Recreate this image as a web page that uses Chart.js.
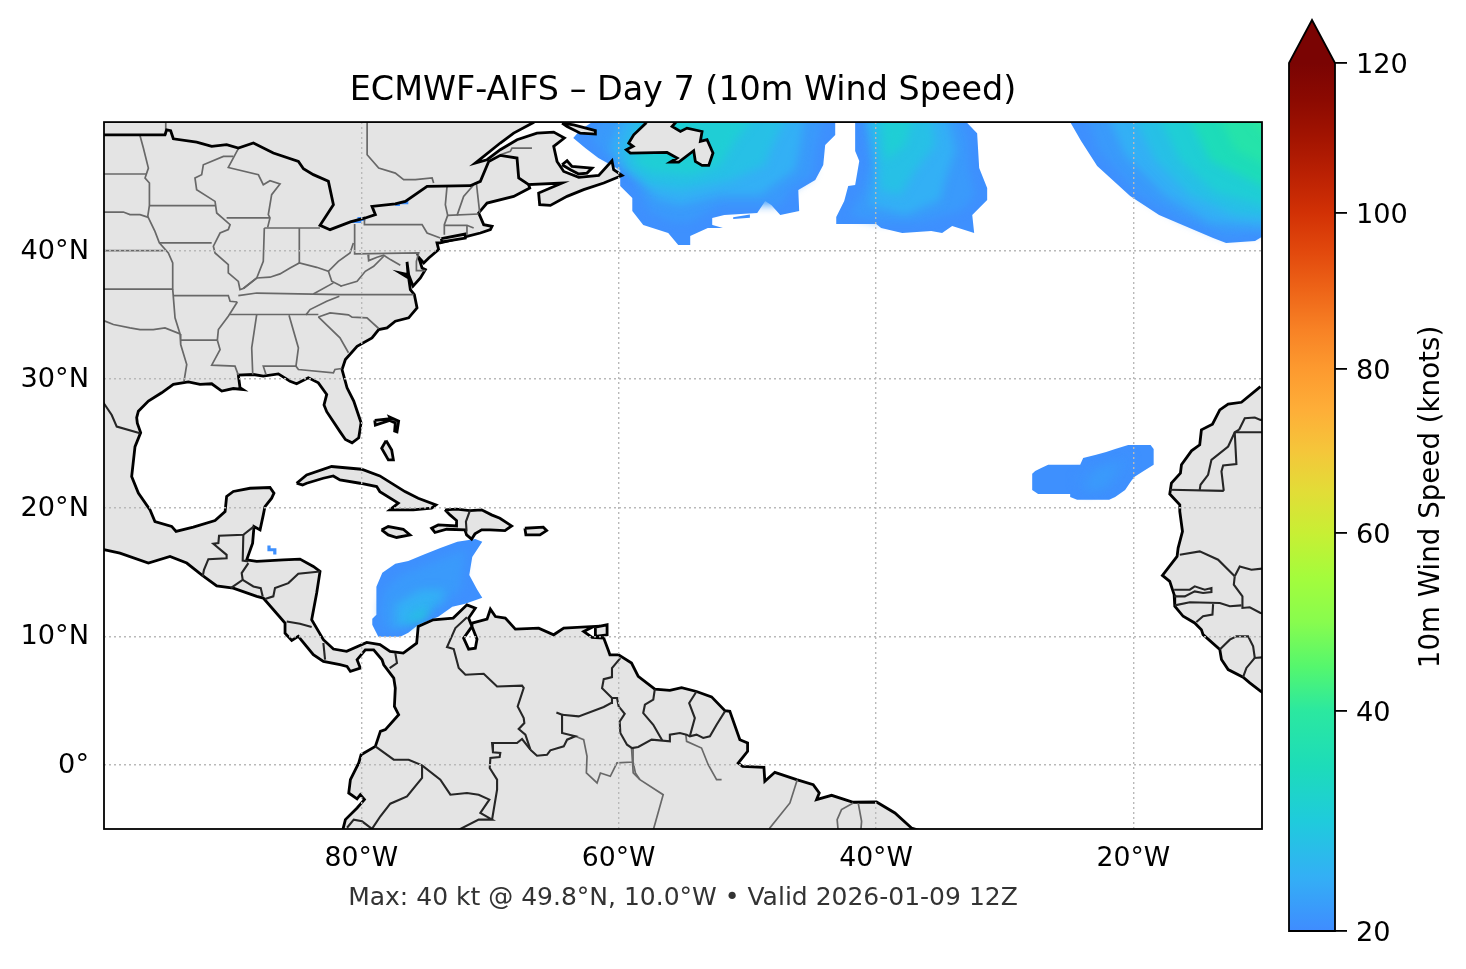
<!DOCTYPE html>
<html>
<head>
<meta charset="utf-8">
<title>ECMWF-AIFS Day 7</title>
<script src="https://cdn.jsdelivr.net/npm/chart.js@4/dist/chart.umd.js"></script>
<style>
  html, body { margin: 0; background: #fff; }
  #map { position: absolute; left: 0; top: 0; }
  #cbar { position: absolute; left: 1270px; top: 0; }
</style>
</head>
<body>
<canvas id="map" width="1366" height="969"></canvas>
<canvas id="cbar" width="196" height="969"></canvas>
<script>
// axes
const lonTicks = [-80, -60, -40, -20];
const lonLabels = ['80°W', '60°W', '40°W', '20°W'];
const latTicks = [0, 10, 20, 30, 40];
const latLabels = ['0°', '10°N', '20°N', '30°N', '40°N'];

const cbarTicks = [20, 40, 60, 80, 100, 120];
const cbarFrac = [0, 0.2535, 0.4585, 0.6475, 0.8272, 1];
const cbarKnots = [20, 25, 30, 35, 40, 45, 50, 55, 60, 65, 70, 75, 80, 85, 90, 95, 100, 105, 110, 115, 120];
const cbarColors = ['#3f8cff', '#33b0f5', '#1fcbdc', '#1ddcb9', '#2be8a0', '#55f76d', '#88fc4e', '#a4fc3c', '#c8ef34',
  '#e2dd37', '#f5c63a', '#feae38', '#fd9a2f', '#f88225', '#ee6518', '#e2490d', '#d23105', '#bb2103', '#a31401', '#8c0a01', '#7a0403'];

// wind areas as [knots, ring of lon/lat], weakest first. inner rings run past the frame, it clips them
const windNewfoundland = [
  [20.5, [[-62.05,50],[-43.17,50],[-43.17,48.99],[-43.95,48.21],[-44.1,46.66],[-44.72,45.49],[-46.04,44.71],[-45.97,43.08],[-47.44,42.77],[-48.14,43.55],[-48.61,43.86],[-49.23,42.92],[-51.79,42.77],[-52.73,42.53],[-52.73,41.91],[-54.44,41.14],[-54.44,40.44],[-55.37,40.44],[-56.15,41.37],[-58.09,41.99],[-58.94,43.08],[-58.94,44.09],[-59.88,45.02],[-59.88,46.27],[-61.58,47.2],[-62.6,47.98],[-63.53,48.76],[-62.99,49.38]]],
  [22, [[-60.65,51],[-43.95,51],[-44.72,47.82],[-44.96,45.88],[-46.67,44.71],[-47.44,43.55],[-52.1,43.55],[-54.44,42.22],[-55.83,42.22],[-57.54,43.0],[-58.32,44.32],[-58.71,45.49],[-61.43,47.82],[-62.21,48.99]]],
  [25, [[-59.49,51],[-45.5,51],[-45.89,48.21],[-46.28,46.27],[-49,44.32],[-52.1,44.32],[-55.21,43.55],[-57.16,44.09],[-58.32,45.49],[-59.88,46.66],[-60.65,47.98]]],
  [28, [[-58.32,51],[-46.67,51],[-48.22,47.82],[-48.61,46.66],[-51.33,45.49],[-55.21,44.71],[-57.54,45.1],[-59.1,46.27],[-59.72,47.43]]],
  [31, [[-56.77,51],[-49,51],[-50.94,48.6],[-52.1,46.66],[-54.44,45.88],[-57.54,46.11],[-58.94,47.04],[-57.54,48.6]]]
];
const windMidNorth = [
  [20.5, [[-41.62,50],[-32.99,50],[-32.14,49.14],[-31.98,46.42],[-31.36,44.87],[-31.36,43.93],[-31.98,43.31],[-32.52,42.77],[-32.37,41.37],[-34.08,41.91],[-34.86,41.37],[-35.71,41.52],[-37.96,41.37],[-39.6,41.76],[-39.98,42.07],[-43.09,42.07],[-43.09,42.61],[-42.47,43.86],[-42.16,45.02],[-41.62,45.1],[-41.3,46.97],[-41.62,47.75]]],
  [22, [[-41.0,51],[-33.7,51],[-32.9,48.6],[-32.8,46.27],[-32.3,44.32],[-33.3,43.16],[-36.57,42.22],[-39.67,42.22],[-42.0,42.77],[-41.0,44.71],[-40.4,47.04]]],
  [25, [[-40.84,51],[-34.62,51],[-33.85,47.82],[-34.62,45.49],[-35.01,43.93],[-37.73,42.77],[-40.45,43.55],[-40.06,46.27]]],
  [28, [[-40.45,51],[-35.79,51],[-35.4,48.21],[-36.95,46.27],[-38.12,44.32],[-39.67,44.71],[-39.83,47.43]]],
  [31, [[-39.67,51],[-36.95,51],[-37.73,48.21],[-39.28,47.04]]]
];
const windEastNorth = [
  [20.5, [[-24.91,50],[-9.9,50],[-9.9,41.14],[-10.54,40.75],[-12.79,40.59],[-13.8,40.98],[-18,42.77],[-20.25,44.25],[-22.81,46.58],[-24.06,48.52]]],
  [22, [[-23.75,51],[-22.73,47.82],[-19.47,44.32],[-16.36,42.53],[-12.87,41.14],[-9,41.45],[-9,51]]],
  [25, [[-22.19,51],[-20.64,47.43],[-17.53,44.32],[-14.03,42.22],[-9,41.76],[-9,51]]],
  [28, [[-20.25,51],[-18.3,47.04],[-15.59,44.32],[-12.09,42.77],[-9,42.53],[-9,51]]],
  [31, [[-18.3,51],[-16.36,47.04],[-13.64,44.56],[-9,43.31],[-9,51]]],
  [35, [[-15.98,51],[-14.03,47.04],[-9,44.56],[-9,51]]],
  [38, [[-13.64,51],[-12.09,47.82],[-9,46.27],[-9,51]]],
  [40, [[-11.7,51],[-9,48.21],[-9,51]]]
];
const windCanaries = [
  [20.5, [[-27.86,22.63],[-27.63,22.86],[-27.16,23.09],[-26.62,23.33],[-24.13,23.33],[-23.9,23.87],[-22.89,24.11],[-22.11,24.34],[-21.41,24.57],[-20.4,24.88],[-18.66,24.88],[-18.42,24.57],[-18.42,23.33],[-19.2,22.86],[-19.9,22.4],[-20.17,22.08],[-20.64,21.38],[-21.41,20.84],[-21.88,20.61],[-24.37,20.61],[-24.91,20.84],[-24.91,21.07],[-27.4,21.07],[-27.86,21.38]]],
  [21, [[-23.74,23.0],[-20.25,24.1],[-20.1,23.33],[-21.41,21.6],[-23.74,21.1],[-24.6,22.16]]],
  [22, [[-22.97,22.94],[-21.04,23.56],[-22.19,21.54],[-23.74,21.38]]]
];
const windCaribbean = [
  [20.5, [[-79.15,11.35],[-78.83,11.66],[-78.83,13.84],[-78.37,14.93],[-77.36,15.63],[-76.35,15.86],[-75.18,16.33],[-73.86,16.87],[-72.54,17.34],[-71.14,17.57],[-70.6,17.34],[-71.38,16.17],[-71.61,14.77],[-70.99,13.61],[-70.6,12.99],[-71.92,12.52],[-72.93,12.29],[-74.02,11.51],[-75.57,10.89],[-76.35,10.26],[-76.97,9.95],[-78.68,9.95],[-79.15,10.89]]],
  [22, [[-78.14,13.61],[-76.97,14.77],[-73.86,15.94],[-71.92,16.72],[-72.31,13.61],[-73.86,12.21],[-76.58,10.89],[-78.14,10.34],[-78.52,12.05]]],
  [25, [[-77.36,12.44],[-75.42,13.61],[-73.47,13.61],[-73.86,12.67],[-75.8,11.43],[-77.36,10.5]]],
  [28, [[-76.58,11.43],[-74.64,12.44],[-75.03,11.74],[-76.35,10.81]]],
  [31, [[-75.8,11.43],[-74.64,12.05],[-75.42,11.12]]]
];
// small patches that sit on the lakes and off Honduras
const windSpecks = [
  [20.5, [[-77.36,43.47],[-77.0,43.47],[-77.0,43.6],[-76.35,43.6],[-76.35,43.86],[-76.9,43.86],[-76.9,43.7],[-77.36,43.7]]],
  [20.5, [[-80.85,42.15],[-80.0,42.15],[-80.0,42.3],[-79.69,42.3],[-79.69,42.61],[-80.3,42.61],[-80.3,42.35],[-80.85,42.35]]],
  [20.5, [[-87.3,16.75],[-87.3,17.05],[-87.05,17.05],[-87.05,16.85],[-86.6,16.85],[-86.6,16.35],[-86.85,16.35],[-86.85,16.6],[-87.3,16.6]]],
  [20.5, [[-53.5,41.9],[-52.9,42.05],[-51.9,41.75],[-53.1,41.75]]],
  [20.5, [[-51.1,42.6],[-49.8,42.8],[-49.8,42.55],[-51.1,42.45]]]
];

// land
const landAmericas = [[-65.5,51],[-66.0,50.4],[-66.66,49.95],[-68.16,49.14],[-69.2,48.37],[-71.14,46.81],[-70.23,47.07],[-69.2,47.85],[-67.9,48.63],[-66.35,49.14],[-65.05,49.22],[-64.22,48.76],[-65.05,48.11],[-64.79,46.94],[-64.27,46.16],[-63.1,45.7],[-61.55,45.85],[-60.52,46.99],[-60.39,46.29],[-59.74,45.85],[-61.16,45.26],[-62.72,44.74],[-64.01,44.22],[-65.31,43.52],[-66.14,43.57],[-66.22,44.48],[-64.4,45.26],[-66.99,45.13],[-66.91,44.87],[-68.16,44.22],[-70.23,43.7],[-70.88,42.93],[-70.49,42.02],[-69.84,41.89],[-69.97,41.63],[-70.75,41.37],[-71.79,41.11],[-73.86,40.6],[-74.12,40.6],[-73.99,40.08],[-74.76,39.43],[-75.15,39.04],[-75.54,39.48],[-75.28,38.65],[-75.02,38.52],[-75.41,37.87],[-75.98,37.23],[-76.32,38.13],[-76.45,39.12],[-76.37,38.13],[-76.97,38.26],[-76.32,37.87],[-76.19,36.97],[-75.88,36.58],[-75.67,35.54],[-76.32,34.77],[-77.36,34.51],[-78.0,33.99],[-78.65,33.86],[-79.17,33.21],[-80.33,32.56],[-81.24,31.53],[-81.5,30.75],[-81.11,29.33],[-80.59,28.29],[-80.02,26.61],[-80.2,25.44],[-80.72,25.05],[-81.24,25.31],[-81.66,25.92],[-82.69,27.47],[-82.9,27.99],[-82.69,28.81],[-83.34,29.71],[-84.12,30.1],[-85.03,29.64],[-85.54,29.84],[-86.45,30.41],[-87.62,30.23],[-88.39,30.36],[-89.56,30.31],[-89.43,29.33],[-89.22,29.2],[-89.95,29.27],[-90.85,29.07],[-91.63,29.64],[-92.54,29.59],[-93.44,29.79],[-94.61,29.59],[-95.52,28.94],[-96.55,28.29],[-97.33,27.51],[-97.46,27.0],[-97.41,26.57],[-97.15,25.84],[-97.59,24.75],[-97.85,22.42],[-97.33,21.13],[-96.42,19.83],[-96.04,18.92],[-94.74,18.54],[-94.4,18.15],[-93.06,18.48],[-91.37,19.0],[-90.59,19.7],[-90.47,20.87],[-89.95,21.26],[-88.65,21.51],[-87.1,21.57],[-86.79,21.13],[-86.97,20.74],[-87.49,20.09],[-87.62,19.44],[-87.87,18.27],[-88.34,18.54],[-88.45,17.24],[-88.91,15.94],[-88.13,15.82],[-86.06,15.94],[-84.77,16.0],[-83.73,15.43],[-83.21,15.04],[-83.47,13.36],[-83.86,11.28],[-82.95,9.73],[-82.17,9.0],[-81.14,8.82],[-79.58,9.52],[-78.55,9.34],[-77.77,8.82],[-76.74,8.69],[-75.7,9.46],[-75.58,10.76],[-74.41,11.28],[-72.86,11.41],[-71.79,12.44],[-71.14,12.18],[-71.66,11.41],[-71.4,10.76],[-72.05,9.85],[-71.66,8.99],[-71.14,9.07],[-71.01,9.77],[-71.4,10.76],[-71.4,11.02],[-70.23,11.33],[-69.97,12.1],[-69.58,11.53],[-68.81,11.41],[-68.03,10.55],[-66.22,10.63],[-65.05,10.11],[-64.27,10.63],[-61.94,10.76],[-62.72,10.37],[-62.07,9.9],[-61.16,9.85],[-60.77,8.81],[-60.68,8.55],[-60.0,8.55],[-59,7.91],[-58.48,6.87],[-57.19,5.89],[-56.02,5.78],[-55.11,6.0],[-53.95,5.7],[-52.78,5.28],[-51.74,4.2],[-51.36,4.15],[-50.58,1.95],[-49.98,1.69],[-49.98,1.04],[-50.71,0.13],[-50.37,-0.12],[-48.71,-0.2],[-48.64,-1.29],[-47.86,-0.59],[-46.17,-1.16],[-44.88,-1.55],[-44.41,-2.2],[-44.62,-2.72],[-43.45,-2.38],[-41.77,-2.92],[-39.96,-2.9],[-38.53,-3.75],[-37.24,-4.92],[-36.85,-5.05],[-35,-5.5],[-35,-7],[-81,-7],[-81.42,-4.99],[-81.24,-4.27],[-80.33,-3.36],[-79.76,-2.71],[-80.08,-2.33],[-80.33,-2.66],[-80.98,-2.2],[-80.85,-1.16],[-80.2,0.14],[-80.02,0.78],[-78.91,1.43],[-78.52,2.6],[-78.13,2.73],[-77.1,3.89],[-77.43,4.54],[-77.36,5.96],[-77.48,6.74],[-78.26,7.78],[-78.39,8.17],[-79.04,8.94],[-79.69,8.94],[-80.33,8.17],[-80.08,7.52],[-80.85,7.26],[-81.11,7.65],[-81.66,7.78],[-82.95,8.04],[-83.73,8.56],[-84.9,9.99],[-85.41,9.67],[-85.93,10.24],[-85.93,11.02],[-87.62,12.97],[-88.13,13.1],[-89.95,13.74],[-91.24,13.92],[-92.41,14.78],[-93.57,15.69],[-94.87,16.2],[-96.55,15.69],[-98.76,16.46],[-99.92,16.72],[-100.57,16.85],[-101,17],[-101,51]];
const landAfrica = [[-10.12,29.42],[-11.6,28.2],[-12.63,28.05],[-13.28,27.61],[-13.85,26.5],[-14.71,26.06],[-14.84,24.89],[-15.48,24.42],[-16.26,23.34],[-16.34,22.69],[-17.04,21.91],[-17.17,21.06],[-16.39,20.23],[-16.39,19.71],[-16.18,18.15],[-16.52,16.86],[-16.6,16.21],[-17.74,14.73],[-17.17,14.27],[-16.83,13.23],[-16.78,12.33],[-16.13,11.55],[-15.23,11.03],[-14.71,10.51],[-14.58,10.12],[-13.28,8.96],[-13.15,8.18],[-12.63,7.4],[-11.47,6.81],[-10.95,6.37],[-10.12,5.72],[-9,5],[-9,30]];
const landCuba = [[-85.03,21.9],[-84.25,22.55],[-82.31,23.2],[-79.98,22.99],[-78.56,22.47],[-76.61,21.25],[-75.58,20.73],[-74.2,20.22],[-74.54,19.96],[-75.96,19.83],[-77.78,19.83],[-77.13,20.35],[-78.56,21.25],[-78.81,21.64],[-80.11,21.9],[-81.66,22.16],[-82.18,22.47],[-82.96,22.29],[-84.25,21.9],[-84.57,21.77]];
const landHispaniola = [[-73.5,19.83],[-72.6,19.88],[-71.56,19.77],[-70.65,19.83],[-69.88,19.44],[-69.23,19.18],[-68.32,18.58],[-68.84,18.22],[-70.0,18.27],[-70.65,18.27],[-71.17,17.96],[-71.43,17.55],[-71.82,17.88],[-71.95,18.27],[-73.37,18.32],[-74.28,18.07],[-74.54,18.4],[-74.02,18.66],[-72.6,18.58],[-72.6,19],[-73.11,19.44]];
const landJamaica = [[-78.43,18.27],[-77.91,18.53],[-76.74,18.32],[-76.22,17.88],[-77.26,17.68],[-77.91,17.88]];
const landPuertoRico = [[-67.29,18.4],[-65.86,18.48],[-65.6,18.22],[-66.12,17.88],[-67.21,17.88]];
const landTrinidad = [[-61.81,10.7],[-60.9,10.89],[-60.9,10.11],[-61.81,9.98]];
const landGrandBahama = [[-78.96,26.79],[-77.74,26.92],[-77.8,27.05],[-77.1,26.73],[-77.23,25.9],[-77.41,25.96],[-77.36,26.6],[-77.8,26.79],[-78.91,26.42]];
const landAndros = [[-78.08,25.22],[-78.42,24.62],[-77.9,23.72],[-77.51,23.72],[-77.64,24.49]];
const landLongIsland = [[-73.78,40.93],[-71.92,41.29],[-71.92,40.98],[-73.73,40.67]];
const landAnticosti = [[-64.4,49.92],[-63.5,49.79],[-61.81,49.33],[-61.81,49.07],[-62.98,49.14],[-64.01,49.66]];
const landPEI = [[-64.4,46.68],[-64.01,46.99],[-63.63,46.55],[-62.07,46.42],[-62.46,46.03],[-63.1,45.96],[-63.75,46.29]];
const landNewfoundland = [[-57.85,49.95],[-58.83,49.01],[-59.22,48.37],[-58.88,48.11],[-59.4,47.85],[-59.09,47.59],[-56.24,47.64],[-55.46,47.2],[-55.98,46.89],[-55.33,46.89],[-54.17,47.77],[-54.04,46.94],[-53.52,46.63],[-53.0,46.63],[-52.67,47.59],[-53.13,48.63],[-53.65,48.5],[-53.52,49.27],[-54.69,49.53],[-55.2,49.27],[-55.85,49.66],[-55.59,49.95],[-55.6,51],[-57.5,51]];
const islands = [landCuba, landHispaniola, landJamaica, landPuertoRico, landTrinidad, landGrandBahama, landAndros, landLongIsland, landAnticosti, landPEI, landNewfoundland];

// US / Canada line along the lakes, black like the coast
const canadaBorder = [[-101,49.01],[-95.26,49.01],[-95.13,49.4],[-94.82,49.33],[-94.61,48.7],[-92.8,48.44],[-91.63,48.11],[-90.47,48.24],[-89.56,47.98],[-88.39,48.37],[-86.84,47.59],[-84.89,46.94],[-84.5,46.37],[-83.73,45.91],[-82.56,45.39],[-82.17,43.57],[-83.21,41.97],[-82.43,41.63],[-80.85,42.23],[-79.69,42.54],[-78.91,42.8],[-79.17,43.44],[-77.36,43.63],[-76.58,43.83],[-74.89,45.0],[-71.53,45.05],[-70.75,45.39],[-70.1,46.94],[-69.2,47.41],[-67.9,47.2],[-67.77,45.65],[-66.99,45.13]];

// state and province lines
const stateLines = [
  [[-95.2,50],[-95.2,49.01]],
  [[-79.55,50],[-79.55,47.46],[-78.65,46.42],[-77.36,46.03],[-76.71,45.52],[-75.8,45.52],[-74.5,45.65],[-74.38,45.26]],
  [[-69.2,47.46],[-68.42,47.72],[-68.29,47.98],[-66.74,47.98]],
  [[-101,45.96],[-96.68,45.96]],
  [[-101,42.98],[-98.5,43],[-97.98,42.8],[-97.2,42.8],[-96.55,42.59]],
  [[-101,40],[-95.39,40]],
  [[-101,37],[-94.66,37]],
  [[-101,34.6],[-99.92,34.51],[-99.27,34.25],[-97.98,33.99],[-97.2,33.86],[-96.17,33.86],[-95.26,33.99],[-94.09,33.52]],
  [[-97.2,48.94],[-96.94,47.98],[-96.55,46.42],[-96.81,45.65],[-96.47,45.26],[-96.47,43.52],[-96.6,42.67]],
  [[-96.6,42.67],[-96.04,41.5],[-95.7,40.6],[-95.0,39.82],[-94.66,39.04],[-94.66,37],[-94.48,34.77],[-94.09,33.52],[-94.04,32.69],[-93.57,31.14],[-93.78,29.84]],
  [[-96.47,43.5],[-91.37,43.5]],
  [[-95.7,40.6],[-91.63,40.6]],
  [[-94.61,36.5],[-90.34,36.5],[-90.2,36.06],[-89.64,36.0]],
  [[-94.04,33.03],[-91.19,33.03]],
  [[-89.56,47.93],[-90.34,46.47],[-88.0,45.9],[-87.62,45.13],[-87.1,45.44],[-86.32,45.18],[-86.97,44.35],[-87.23,42.8],[-87.1,42.54],[-87.28,41.81]],
  [[-89.95,47.33],[-90.72,47.33],[-92.28,46.68],[-92.41,45.9],[-92.93,45.65],[-92.8,44.74],[-91.37,43.83],[-91.24,42.93],[-90.2,42.02],[-90.34,41.63],[-90.98,41.37],[-91.5,40.34],[-91.37,39.82],[-90.34,38.91],[-90.34,38.26],[-89.56,37.6],[-89.43,36.97],[-89.17,37.05]],
  [[-90.47,42.54],[-87.1,42.54]],
  [[-87.54,41.76],[-87.62,39.17],[-88.13,37.87],[-89.17,37.05]],
  [[-87.54,41.76],[-83.21,41.76]],
  [[-84.82,41.76],[-84.82,39.04]],
  [[-89.17,37.05],[-88.13,37.87],[-87.1,37.93],[-86.32,38.19],[-85.54,38.65],[-84.82,39.04],[-83.47,38.7],[-82.56,38.39],[-81.79,39.17],[-80.88,39.82],[-80.62,40.6]],
  [[-79.76,42.48],[-79.76,42.02],[-75.28,42.02],[-74.89,41.37],[-73.86,40.98]],
  [[-80.52,42.07],[-80.52,39.74],[-75.54,39.82],[-75.72,39.17],[-75.72,38.45],[-75.02,38.45]],
  [[-79.48,39.69],[-79.43,39.22],[-78.78,39.48],[-78.26,39.64],[-77.74,39.3],[-76.97,38.86]],
  [[-78.26,39.56],[-79.04,38.78],[-79.69,38.39],[-80.33,37.62],[-81.63,37.23]],
  [[-82.56,38.39],[-82.3,37.62],[-81.53,37.23]],
  [[-82.17,37.49],[-83.73,36.63]],
  [[-89.56,36.5],[-88.13,36.7],[-81.63,36.58],[-75.93,36.58]],
  [[-81.71,36.45],[-82.69,36.06],[-83.99,35.41],[-84.3,35.0]],
  [[-90.2,35.03],[-83.34,35.03]],
  [[-83.34,34.84],[-82.43,35.15],[-81.0,35.0],[-80.72,34.82],[-79.56,34.77],[-78.65,33.94]],
  [[-83.34,34.84],[-81.66,33.21],[-81.0,32.05]],
  [[-88.13,35.03],[-88.52,32.43],[-88.44,30.36]],
  [[-85.62,34.97],[-84.89,32.43],[-85.08,31.01]],
  [[-87.41,30.36],[-87.62,31.01],[-85.08,31.01],[-84.89,30.75],[-82.17,30.49],[-82.05,30.75],[-81.53,30.83]],
  [[-91.19,33.03],[-90.98,32.3],[-91.63,31.09],[-89.82,31.01],[-89.56,30.31]],
  [[-89.64,36.0],[-90.34,34.89],[-91.11,33.86],[-91.19,33.03]],
  [[-73.34,45.0],[-73.47,43.57],[-73.29,42.74],[-73.55,42.02],[-73.55,41.24]],
  [[-71.14,45.26],[-72.05,44.22],[-72.56,42.74]],
  [[-71.06,45.26],[-70.8,42.93]],
  [[-73.29,42.74],[-70.88,42.85]],
  [[-73.55,41.97],[-71.79,41.97],[-71.27,41.76]],
  [[-71.79,41.97],[-71.79,41.19]],
  [[-63.37,2.21],[-62.72,1.95],[-62.46,0.65],[-62.51,-0.64],[-61.68,-1.42],[-61.42,-0.64],[-60.65,-0.9],[-60.13,0.14],[-58.88,0.21],[-58.88,1.3]],
  [[-58.88,0.21],[-58.7,-0.64],[-58.35,-1.16]],
  [[-54.78,2.34],[-54.72,1.82],[-53.56,1.3],[-53.04,0.0],[-52.39,-1.16],[-52.0,-1.16]],
  [[-59,1.3],[-58.87,-0.64],[-58.35,-1.16],[-56.54,-2.33],[-57.57,-6]],
  [[-46.12,-1.16],[-46.69,-2.97],[-48.25,-4.92],[-48.6,-6]],
  [[-41.77,-2.98],[-42.68,-3.49],[-43.02,-4.27],[-42.86,-6]],
  [[-41.38,-2.98],[-41.12,-4.4],[-41.25,-6]]
];

// country lines
const countryLines = [
  [[-100.5,28.8],[-99.92,27.99],[-99.4,27.21],[-99.01,26.31],[-97.2,25.79]],
  [[-88.34,18.54],[-89.17,17.89],[-91.06,17.81],[-91.11,17.24],[-91.5,17.19],[-90.47,16.33],[-90.47,16.07],[-91.89,15.99],[-92.23,15.17],[-92.33,14.65]],
  [[-89.17,17.89],[-89.22,15.89],[-88.78,15.82]],
  [[-88.78,15.69],[-89.3,14.91],[-89.22,14.39],[-90.15,13.74]],
  [[-89.22,14.39],[-88.39,13.87],[-87.82,13.74],[-87.67,13.1]],
  [[-83.21,15.04],[-84.9,14.86],[-85.67,14.13],[-86.71,13.74],[-86.84,13.1],[-87.49,12.89]],
  [[-85.8,11.15],[-84.77,10.97],[-83.86,10.71]],
  [[-82.95,9.47],[-82.82,8.17]],
  [[-77.8,7.52],[-77.23,7.91],[-77.36,8.68]],
  [[-71.56,19.77],[-71.87,18.92],[-71.82,18.14]],
  [[-71.79,11.48],[-72.69,10.63],[-73.34,9.15],[-72.82,9],[-72.43,7.52],[-71.91,7.0],[-70.49,7.08],[-69.45,6.09],[-67.51,6.15],[-67.38,5.97],[-67.85,4.54],[-67.38,3.63],[-67.33,3.24],[-67.77,2.78],[-67.25,2.34],[-66.86,1.17]],
  [[-66.86,1.17],[-67.51,2.0],[-67.9,1.69],[-69.84,1.69],[-69.77,0.97],[-69.2,0.91],[-69.25,0.6],[-69.97,0.52],[-70.02,-0.25],[-69.45,-1.16],[-69.45,-1.94],[-69.84,-4.27]],
  [[-78.91,1.43],[-77.48,0.39],[-76.32,0.39],[-75.28,-0.05],[-73.86,-1.16],[-73.08,-2.33],[-71.79,-2.2],[-70.88,-2.33],[-70.05,-2.71],[-70.75,-3.75],[-69.84,-4.27],[-70.88,-4.27],[-72.3,-4.99],[-73,-5.4]],
  [[-75.28,-0.05],[-75.28,-1.03],[-76.45,-2.46],[-77.75,-3.03],[-78.52,-4.01],[-79.17,-4.99],[-79.95,-4.4],[-80.59,-4.27],[-81.11,-4.9]],
  [[-66.86,1.17],[-66.35,0.7],[-65.57,0.77],[-65.31,1.12],[-64.27,1.43],[-64.01,1.95],[-63.37,2.21],[-64.4,2.47],[-64.4,3.89],[-64.84,4.07]],
  [[-64.4,3.89],[-63.11,3.76],[-61.16,4.49],[-60.59,4.8],[-60.52,5.19],[-60.13,5.19],[-60,4.54],[-59.53,3.97],[-59.92,3.37],[-59.87,2.47],[-59.35,1.56],[-58.96,1.3],[-58.48,1.38],[-57.44,1.95],[-56.02,1.82],[-56.02,2.34],[-55.24,2.47],[-54.72,2.34],[-54.47,2.21],[-53.95,2.34],[-53.43,2.08],[-52.91,2.21],[-52.39,3.11],[-51.74,4.15]],
  [[-60.52,5.19],[-61.29,5.96],[-61.16,6.66],[-60.52,6.82],[-60.52,7.52],[-59.87,8.3]],
  [[-57.19,5.89],[-57.31,5.06],[-57.96,4.67],[-58.09,4.02],[-57.31,3.11],[-56.62,1.9]],
  [[-53.95,5.7],[-54.52,4.8],[-54.08,3.63],[-54.47,2.21]],
  [[-9,26.83],[-10.12,26.83],[-10.56,27.01],[-11.34,26.96],[-11.78,26.06]],
  [[-12.12,25.87],[-9,25.87]],
  [[-11.78,26.06],[-12.12,25.87],[-12.63,24.76],[-13.93,23.72],[-14.19,22.56],[-14.78,21.78],[-14.84,21.39]],
  [[-12.12,25.87],[-11.99,23.39],[-13.02,23.29],[-13.15,22.82],[-12.97,21.31]],
  [[-17.17,21.39],[-12.97,21.31]],
  [[-16.39,16.34],[-14.84,16.6],[-13.41,15.95],[-12.12,14.66]],
  [[-12.12,14.66],[-11.73,15.43],[-10.82,15.17],[-9,15.36]],
  [[-12.12,14.66],[-12.19,14.01],[-11.52,13.1],[-11.52,12.2],[-10.95,12.25],[-10.12,11.81],[-9,11.6]],
  [[-16.83,13.62],[-15.61,13.62],[-15.23,13.88],[-14.45,13.62],[-13.93,13.75],[-13.93,13.44],[-14.58,13.36],[-15.23,13.49],[-16.0,13.1],[-16.83,13.1]],
  [[-16.78,12.4],[-15.61,12.64],[-13.28,12.58],[-12.5,12.33],[-11.6,12.4]],
  [[-13.8,12.5],[-13.85,11.68],[-14.58,11.55],[-15.1,11.11]],
  [[-13.28,8.96],[-12.5,9.73],[-11.99,9.99],[-11.08,9.99],[-10.69,9.22],[-10.56,8.31],[-9,8.44]],
  [[-11.47,6.81],[-11.21,7.53],[-10.56,8.31]]
];

const titleText = 'ECMWF-AIFS – Day 7 (10m Wind Speed)';
const footerText = 'Max: 40 kt @ 49.8°N, 10.0°W • Valid 2026-01-09 12Z';
const cbarTitle = '10m Wind Speed (knots)';

Chart.defaults.font.family = "'DejaVu Sans'";
Chart.defaults.color = '#000';
Chart.defaults.animation = false;

function hexRgb(h) {
  return [1, 3, 5].map(i => parseInt(h.slice(i, i + 2), 16));
}
// colour for a speed, between the two nearest stops
function colorFor(kt) {
  let i = 0;
  while (i < cbarKnots.length - 2 && kt > cbarKnots[i + 1]) i++;
  const t = (kt - cbarKnots[i]) / (cbarKnots[i + 1] - cbarKnots[i]);
  const a = hexRgb(cbarColors[i]), b = hexRgb(cbarColors[i + 1]);
  return `rgb(${a.map((v, k) => Math.round(v + (b[k] - v) * t)).join(',')})`;
}

function filled(data, color, line, width) {
  return { data, showLine: true, fill: 'shape', backgroundColor: color, borderColor: line || color,
    borderWidth: width === undefined ? 0 : width, pointRadius: 0, tension: 0 };
}
function stroke(data, color, width) {
  return { data, showLine: true, fill: false, borderColor: color, borderWidth: width, pointRadius: 0, tension: 0 };
}

// built in drawing order, reversed at the end because chart.js paints index 0 last
const mapSets = [];
[windNewfoundland, windMidNorth, windEastNorth, windCanaries, windCaribbean].forEach(blob => {
  blob.forEach(([kt, ring], i) => {
    const set = filled(ring, colorFor(kt));
    set.soft = i > 0; // inner rings get blurred so the field reads as a gradient
    mapSets.push(set);
  });
});
mapSets.push(filled(landAfrica, '#e4e4e4', '#000', 2.8));
mapSets.push(filled(landAmericas, '#e4e4e4', '#000', 2.8));
islands.forEach(ring => mapSets.push(filled(ring.concat([ring[0]]), '#e4e4e4', '#000', 2.8)));
windSpecks.forEach(([kt, ring]) => mapSets.push(filled(ring, colorFor(kt))));
stateLines.forEach(l => mapSets.push(stroke(l, '#686868', 1.7)));
countryLines.forEach(l => mapSets.push(stroke(l, '#262626', 2.1)));
mapSets.push(stroke(canadaBorder, '#000', 2.8));
mapSets.reverse();

// filler paints in its own beforeDatasetDraw, so the blur is set when the previous set finishes
const softWind = {
  id: 'softWind',
  afterDatasetDraw(chart, args) {
    const next = chart.data.datasets[args.index - 1];
    chart.ctx.filter = next && next.soft ? 'blur(5px)' : 'none';
  }
};

const frame = {
  id: 'frame',
  afterDraw(chart) {
    const { ctx, chartArea: a } = chart;
    ctx.save();
    ctx.filter = 'none';
    ctx.strokeStyle = '#000';
    ctx.lineWidth = 1.8;
    ctx.strokeRect(a.left, a.top, a.right - a.left, a.bottom - a.top);
    ctx.restore();
  }
};

new Chart(document.getElementById('map'), {
  type: 'scatter',
  data: { datasets: mapSets },
  plugins: [softWind, frame],
  options: {
    responsive: false,
    events: [],
    layout: { padding: { top: 71, right: 104, bottom: 50, left: 0 } },
    plugins: {
      legend: { display: false },
      tooltip: { enabled: false },
      title: { display: true, fullSize: false, text: titleText, font: { size: 33.4, weight: 'normal' }, padding: { top: 0, bottom: 11 } }
    },
    scales: {
      x: {
        type: 'linear', min: -100, max: -10,
        afterBuildTicks: s => { s.ticks = lonTicks.map(v => ({ value: v })); },
        afterFit: s => { s.height = 90; },
        ticks: { autoSkip: false, maxRotation: 0, padding: 14, font: { size: 26.7 }, callback: v => lonLabels[lonTicks.indexOf(v)] },
        grid: { color: '#b9b9b9', lineWidth: 1.4, z: 1, drawTicks: false },
        border: { display: false, dash: [2, 3] },
        title: { display: true, text: footerText, color: '#333', font: { size: 25 }, padding: { top: 0, bottom: 6 } }
      },
      y: {
        type: 'linear', min: -5, max: 50,
        afterBuildTicks: s => { s.ticks = latTicks.map(v => ({ value: v })); },
        afterFit: s => { s.width = 104; },
        ticks: { autoSkip: false, padding: 15, labelOffset: 1, font: { size: 27.2 }, callback: v => latLabels[latTicks.indexOf(v)] },
        grid: { color: '#b9b9b9', lineWidth: 1.4, z: 1, drawTicks: false },
        border: { display: false, dash: [2, 3] }
      }
    }
  }
});

// colorbar spacing is not even, so the axis follows cbarFrac between ticks
class KnotScale extends Chart.LinearScale {
  static id = 'knot';
  static defaults = Chart.LinearScale.defaults;
  getPixelForValue(v) {
    let i = 0;
    while (i < cbarTicks.length - 2 && v > cbarTicks[i + 1]) i++;
    const t = (v - cbarTicks[i]) / (cbarTicks[i + 1] - cbarTicks[i]);
    return this.getPixelForDecimal(cbarFrac[i] + (cbarFrac[i + 1] - cbarFrac[i]) * t);
  }
}
Chart.register(KnotScale);

function barGradient(ctx) {
  const chart = ctx.chart, s = chart.scales.y;
  if (!chart.chartArea || !s) return '#3f8cff';
  const g = chart.ctx.createLinearGradient(0, s.bottom, 0, s.top);
  cbarKnots.forEach((k, i) => g.addColorStop((s.bottom - s.getPixelForValue(k)) / (s.bottom - s.top), cbarColors[i]));
  return g;
}

// arrow on top, outline, and the label which reads bottom to top
const cbarFrame = {
  id: 'cbarFrame',
  afterDraw(chart) {
    const { ctx, chartArea: a } = chart;
    const mid = (a.left + a.right) / 2;
    ctx.save();
    ctx.beginPath();
    ctx.moveTo(a.left, a.top);
    ctx.lineTo(mid, a.top - 43);
    ctx.lineTo(a.right, a.top);
    ctx.closePath();
    ctx.fillStyle = cbarColors[cbarColors.length - 1];
    ctx.fill();
    ctx.beginPath();
    ctx.moveTo(a.left, a.bottom);
    ctx.lineTo(a.left, a.top);
    ctx.lineTo(mid, a.top - 43);
    ctx.lineTo(a.right, a.top);
    ctx.lineTo(a.right, a.bottom);
    ctx.closePath();
    ctx.strokeStyle = '#000';
    ctx.lineWidth = 1.8;
    ctx.stroke();
    ctx.translate(162, (a.top + a.bottom) / 2);
    ctx.rotate(-Math.PI / 2);
    ctx.fillStyle = '#000';
    ctx.font = "27.7px 'DejaVu Sans'";
    ctx.textAlign = 'center';
    ctx.textBaseline = 'middle';
    ctx.fillText(cbarTitle, 0, 0);
    ctx.restore();
  }
};

new Chart(document.getElementById('cbar'), {
  type: 'bar',
  data: {
    labels: [''],
    datasets: [{ data: [[cbarTicks[0], cbarTicks[cbarTicks.length - 1]]], backgroundColor: barGradient, borderWidth: 0, barPercentage: 1, categoryPercentage: 1 }]
  },
  plugins: [cbarFrame],
  options: {
    responsive: false,
    events: [],
    layout: { padding: { top: 63, right: 0, bottom: 38, left: 19 } },
    plugins: { legend: { display: false }, tooltip: { enabled: false } },
    scales: {
      x: { display: false },
      y: {
        type: 'knot', position: 'right', min: 20, max: 120,
        afterBuildTicks: s => { s.ticks = cbarTicks.map(v => ({ value: v })); },
        afterFit: s => { s.width = 131; },
        ticks: { autoSkip: false, padding: 9, labelOffset: 3, font: { size: 27.2 }, callback: v => String(v) },
        grid: { drawOnChartArea: false, drawTicks: true, tickLength: 12, color: '#000', lineWidth: 1.8 },
        border: { display: false }
      }
    }
  }
});
</script>
</body>
</html>
